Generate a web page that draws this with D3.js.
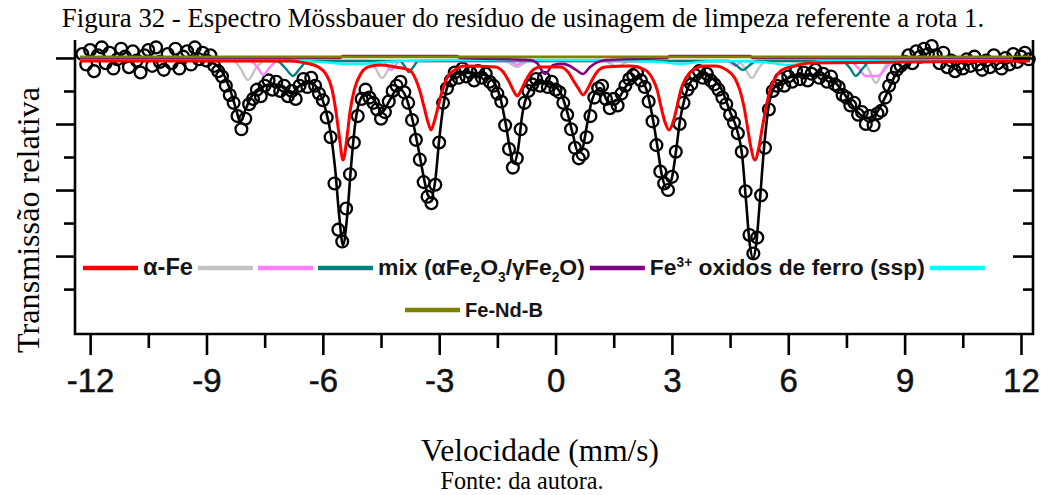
<!DOCTYPE html>
<html>
<head>
<meta charset="utf-8">
<script src="https://cdn.jsdelivr.net/npm/d3@7"></script>
<style>
  html, body { margin: 0; padding: 0; background: #ffffff; }
  svg { display: block; }
</style>
</head>
<body>
<svg id="chart" width="1043" height="495"></svg>
<script>
// ---- Mössbauer spectrum: velocity channels (mm/s) and relative transmission (%) ----
const channelStart = -12.2;
const channelStep = 0.1;
const transmission = [
  100.3, 99.5, 100.6, 99.0, 100.2, 100.8, 99.6, 100.4, 99.2, 99.9, 100.7, 100.1, 99.3, 100.5, 99.8, 98.9,
  100.2, 100.6, 99.4, 100.8, 99.7, 99.1, 100.3, 99.6, 100.7, 99.2, 100.1, 100.5, 99.5, 100.8, 99.9, 100.4, 99.8,
  100.2, 99.4, 99.0, 98.6, 97.9, 97.2, 96.6, 95.6, 94.6, 95.4, 96.5, 96.9, 97.6, 97.1, 97.9, 98.3,
  97.6, 98.2, 97.5, 97.9, 97.1, 97.5, 96.9, 97.9, 98.4, 97.8, 98.5, 97.9, 97.3, 96.8,
  95.5, 94.0, 90.5, 87.0, 86.1, 88.6, 91.2, 93.6, 95.6, 96.9, 97.6,
  97.0, 96.6, 96.1, 95.4, 95.9, 96.7, 97.5, 97.9, 98.2, 97.4,
  96.6, 95.3, 93.8, 92.3, 90.6, 89.5, 89.0, 90.4, 93.6, 96.6, 97.7,
  98.3, 98.9, 98.5, 99.2, 98.6, 98.9, 98.3, 99.0, 98.5, 98.8, 98.2, 97.9,
  97.3, 96.7, 94.9, 93.1, 91.7, 92.4, 94.6, 96.6, 97.5, 98.0,
  98.4, 97.9, 98.5, 97.8, 98.2, 97.6, 97.4, 96.6,
  95.7, 94.6, 93.2, 92.4, 92.7, 94.0, 95.6, 97.0,
  97.7, 97.9, 96.9, 96.2, 96.9, 96.4, 97.3, 97.9, 98.4, 98.7, 98.9, 98.3, 97.8,
  96.7, 95.2, 93.4, 91.4, 90.5, 90.0, 91.0, 92.9, 95.0, 96.6, 97.6,
  98.0, 98.7, 99.0, 98.5, 98.8, 98.3, 98.0, 97.6, 97.0, 96.5, 95.7, 95.1,
  94.3, 92.9, 89.9, 86.6, 85.2, 86.4, 89.6, 93.2, 96.1, 97.5,
  97.9, 98.4, 97.9, 98.6, 98.2, 99.0, 98.4, 98.9, 98.3, 98.8, 99.1, 98.5, 98.8, 98.2, 98.6, 98.0,
  97.8, 97.2, 97.0, 96.4, 96.6, 95.7, 95.9, 95.0, 95.6, 94.9, 95.8, 96.0, 97.0, 97.9, 98.5, 99.1, 99.4,
  99.7, 100.2, 99.6, 100.5, 100.1, 100.7, 100.3, 100.9, 100.2, 99.6, 100.4, 99.3, 99.8, 99.0, 99.5, 99.2,
  99.9, 99.4, 100.1, 99.5, 99.1, 99.8, 99.3, 100.2, 99.6, 99.2, 100.0, 99.5, 100.3, 99.7, 100.1, 100.4, 99.9
];

// Total fitted envelope [velocity, transmission]
const fitTotal = [
  [-12.26, 99.85], [-9.16, 99.85], [-8.83, 99.62], [-8.59, 98.94], [-8.39, 97.58], [-8.23, 96.06], [-8.13, 95.15],
  [-8.00, 96.06], [-7.82, 97.20], [-7.56, 97.80], [-7.31, 98.03], [-7.05, 97.80], [-6.82, 97.35], [-6.58, 97.95],
  [-6.33, 98.18], [-6.12, 97.58], [-5.94, 96.21], [-5.79, 94.17], [-5.68, 91.52], [-5.58, 88.11], [-5.48, 85.83],
  [-5.37, 88.11], [-5.27, 91.89], [-5.17, 94.92], [-5.04, 96.82], [-4.88, 97.35], [-4.68, 96.82], [-4.47, 95.91],
  [-4.27, 96.82], [-4.06, 97.73], [-3.88, 97.20], [-3.70, 95.45], [-3.54, 93.18], [-3.41, 91.14], [-3.29, 89.62],
  [-3.21, 89.39], [-3.10, 90.76], [-3.00, 93.79], [-2.89, 96.44], [-2.74, 98.18], [-2.46, 98.86], [-2.02, 98.86],
  [-1.69, 98.48], [-1.43, 97.05], [-1.28, 94.92], [-1.17, 93.03], [-1.07, 92.05], [-0.97, 93.03], [-0.86, 95.68],
  [-0.71, 97.35], [-0.45, 98.18], [-0.14, 98.03], [0.12, 97.42], [0.30, 95.91], [0.45, 94.17], [0.58, 92.88],
  [0.68, 93.03], [0.81, 94.92], [0.94, 96.82], [1.15, 97.73], [1.38, 96.59], [1.59, 96.82], [1.84, 97.95],
  [2.10, 98.56], [2.33, 97.73], [2.49, 95.68], [2.62, 93.41], [2.74, 91.14], [2.87, 90.15], [3.00, 90.91],
  [3.11, 93.03], [3.21, 95.30], [3.34, 97.05], [3.52, 98.33], [3.78, 98.79], [4.03, 98.48], [4.29, 97.58],
  [4.50, 95.91], [4.68, 94.55], [4.81, 92.65], [4.91, 89.24], [5.01, 85.83], [5.09, 84.85], [5.17, 85.83],
  [5.27, 89.24], [5.37, 93.03], [5.48, 96.06], [5.63, 97.73], [5.91, 98.33], [6.30, 98.71], [6.82, 98.71],
  [7.15, 98.33], [7.41, 97.42], [7.64, 96.44], [7.87, 95.68], [8.05, 95.45], [8.23, 95.68], [8.40, 96.44],
  [8.56, 97.42], [8.76, 98.71], [9.02, 99.47], [9.40, 99.85], [12.23, 99.85]
];

// Sub-spectra
const alphaFe = [
  [-12.26, 99.77], [-6.84, 99.77], [-6.46, 99.62], [-6.12, 99.32], [-5.94, 98.86], [-5.76, 97.58], [-5.66, 95.91],
  [-5.58, 94.17], [-5.48, 92.27], [-5.37, 94.17], [-5.30, 95.91], [-5.19, 97.58], [-5.01, 98.86], [-4.83, 99.32],
  [-4.52, 99.47], [-4.14, 99.32], [-3.78, 99.09], [-3.62, 98.48], [-3.49, 97.42], [-3.39, 96.29], [-3.29, 95.15],
  [-3.21, 94.55], [-3.13, 95.15], [-3.03, 96.29], [-2.93, 97.42], [-2.80, 98.48], [-2.60, 99.09], [-2.34, 99.39],
  [-1.56, 99.32], [-1.35, 98.94], [-1.22, 98.33], [-1.12, 97.73], [-0.99, 97.12], [-0.86, 97.73], [-0.76, 98.33],
  [-0.63, 98.94], [-0.40, 99.32], [0.12, 99.32], [0.32, 98.94], [0.45, 98.33], [0.58, 97.73], [0.71, 97.20],
  [0.84, 97.73], [0.94, 98.33], [1.07, 98.94], [1.28, 99.32], [1.92, 99.39], [2.31, 99.09], [2.49, 98.48],
  [2.62, 97.58], [2.72, 96.29], [2.82, 95.15], [2.93, 94.55], [3.03, 95.15], [3.13, 96.29], [3.23, 97.58],
  [3.36, 98.48], [3.54, 99.09], [3.85, 99.39], [4.11, 99.39], [4.41, 99.09], [4.62, 98.48], [4.75, 97.58],
  [4.86, 96.29], [4.96, 94.55], [5.04, 93.18], [5.14, 92.27], [5.24, 93.18], [5.32, 94.55], [5.43, 96.29],
  [5.53, 97.58], [5.66, 98.48], [5.84, 99.09], [6.17, 99.39], [6.56, 99.62], [12.23, 99.77]
];
const grayComponent = [
  [-12.26, 99.85], [-8.34, 99.85], [-8.13, 99.24], [-7.93, 98.33], [-7.72, 99.24], [-7.51, 99.77],
  [-4.83, 99.77], [-4.65, 99.24], [-4.47, 98.48], [-4.29, 99.24], [-4.11, 99.77],
  [-1.30, 99.77], [-1.15, 99.55], [-0.99, 99.32], [-0.84, 99.55], [-0.68, 99.77],
  [1.28, 99.77], [1.43, 99.55], [1.59, 99.32], [1.74, 99.55], [1.89, 99.77],
  [4.70, 99.77], [4.88, 99.24], [5.06, 98.48], [5.24, 99.24], [5.43, 99.77],
  [7.90, 99.77], [8.08, 99.09], [8.26, 98.11], [8.44, 99.09], [8.62, 99.77], [12.23, 99.85]
];
const pinkComponent = [
  [-12.26, 99.85], [-7.87, 99.77], [-7.69, 99.32], [-7.54, 98.71], [-7.36, 99.32], [-7.18, 99.77],
  [-4.45, 99.77], [-4.34, 99.39], [-4.24, 99.09], [-4.14, 99.39], [-4.03, 99.77],
  [-1.17, 99.77], [-0.99, 99.47], [-0.81, 99.77],
  [4.45, 99.77], [4.63, 99.39], [4.81, 99.77],
  [7.59, 99.77], [7.80, 99.24], [8.00, 98.64], [8.31, 98.64], [8.52, 99.24], [8.70, 99.77], [12.23, 99.85]
];
const mixOxides = [
  [-12.26, 99.85], [-7.18, 99.77], [-6.97, 99.24], [-6.77, 98.64], [-6.58, 99.24], [-6.40, 99.77],
  [-4.01, 99.77], [-3.88, 99.32], [-3.78, 98.94], [-3.67, 99.32], [-3.54, 99.77],
  [4.45, 99.77], [4.65, 99.47], [4.83, 99.09], [5.01, 99.47], [5.19, 99.77],
  [7.38, 99.77], [7.59, 99.24], [7.74, 98.64], [7.93, 99.24], [8.11, 99.77], [12.23, 99.85]
];
const fe3Oxides = [
  [-12.26, 100.00], [-5.55, 100.00], [-5.48, 100.15], [-2.54, 100.15], [-2.46, 100.00],
  [-0.66, 99.85], [-0.48, 99.62], [-0.27, 98.79], [-0.06, 99.47], [0.19, 99.55], [0.37, 99.39],
  [0.53, 99.09], [0.71, 98.79], [0.89, 99.32], [1.10, 99.70], [1.30, 99.85],
  [2.87, 100.00], [2.95, 100.15], [5.01, 100.15], [5.09, 100.00], [12.23, 100.00]
];
const cyanComponent = [
  [-12.26, 99.92], [-6.84, 99.85], [-6.07, 99.70], [-5.30, 99.55], [-4.65, 99.62], [-4.01, 99.77],
  [-2.46, 99.85], [1.15, 99.85], [1.92, 99.77], [2.69, 99.70], [3.21, 99.55], [3.72, 99.70],
  [4.24, 99.77], [5.27, 99.70], [6.04, 99.47], [6.69, 99.70], [7.33, 99.85], [12.23, 99.92]
];
const feNdB = [[-12.26, 100.08], [12.23, 100.08]];

// Axis ticks
const xTicks = [-12, -9, -6, -3, 0, 3, 6, 9, 12];
const xTickLabels = ["-12", "-9", "-6", "-3", "0", "3", "6", "9", "12"];
const xMinorTicks = [-10.5, -7.5, -4.5, -1.5, 1.5, 4.5, 7.5, 10.5];
const yTicks = [100, 95, 90, 85];
const yMinorTicks = [97.5, 92.5, 87.5, 82.5];

// Series in drawing order (back to front)
const seriesList = [
  { data: grayComponent, color: "#c3c3c3", width: 2.4 },
  { data: pinkComponent, color: "#ff80ff", width: 2.4 },
  { data: mixOxides, color: "#008080", width: 2.4 },
  { data: cyanComponent, color: "#00ffff", width: 2.4 },
  { data: fe3Oxides, color: "#800080", width: 2.6 },
  { data: alphaFe, color: "#ff0000", width: 3 },
  { data: feNdB, color: "#808000", width: 2.8 }
];

// Legend entries: swatch colour followed by its label segments
const legendRow1 = [
  { color: "#ff0000", label: [{ t: "α-Fe" }] },
  { color: "#c3c3c3", label: [] },
  { color: "#ff80ff", label: [] },
  { color: "#008080", label: [{ t: "mix (αFe" }, { t: "2", sub: true }, { t: "O" }, { t: "3", sub: true },
                               { t: "/γFe" }, { t: "2", sub: true }, { t: "O)" }] },
  { color: "#800080", label: [{ t: "Fe" }, { t: "3+", sup: true }, { t: " oxidos de ferro (ssp)" }] },
  { color: "#00ffff", label: [] }
];
const legendRow2 = [
  { color: "#808000", label: [{ t: "Fe-Nd-B" }] }
];
const legendWidths = { "α-Fe": 50, "mix": 207, "Fe": 275, "Fe-Nd-B": 78 };

// ---- Layout ----
const svg = d3.select("#chart");
const plot = { left: 75, right: 1033, top: 40, bottom: 334 };

const x = d3.scaleLinear().domain([-12.39, 12.31]).range([plot.left, plot.right]);
const y = d3.scaleLinear().domain([79.1, 101.36]).range([plot.bottom, plot.top]);

const serif = "'Liberation Serif', 'Times New Roman', Times, serif";
const sans = "'Liberation Sans', Arial, Helvetica, sans-serif";

function fitWidth(sel, target) {
  const w = sel.node().getComputedTextLength();
  const fs = parseFloat(sel.attr("font-size"));
  sel.attr("font-size", (fs * target / w).toFixed(2));
}

// Title
const title = svg.append("text")
  .attr("x", 523).attr("y", 27)
  .attr("text-anchor", "middle")
  .attr("font-family", serif).attr("font-size", 22).attr("fill", "#000")
  .text("Figura 32 - Espectro Mössbauer do resíduo de usinagem de limpeza referente a rota 1.");
fitWidth(title, 923);

// Data points (open circles)
const points = transmission.map((t, i) => [channelStart + i * channelStep, t]);
svg.append("g")
  .selectAll("circle")
  .data(points)
  .join("circle")
  .attr("cx", d => x(d[0]))
  .attr("cy", d => y(d[1]))
  .attr("r", 5.9)
  .attr("fill", "none")
  .attr("stroke", "#000")
  .attr("stroke-width", 2.3);

// Fitted envelope
const lineGen = d3.line().x(d => x(d[0])).y(d => y(d[1])).curve(d3.curveMonotoneX);
svg.append("path")
  .datum(fitTotal)
  .attr("d", lineGen)
  .attr("fill", "none")
  .attr("stroke", "#000")
  .attr("stroke-width", 2.6);

// Sub-spectra
svg.append("g")
  .selectAll("path")
  .data(seriesList)
  .join("path")
  .attr("d", d => lineGen(d.data))
  .attr("fill", "none")
  .attr("stroke", d => d.color)
  .attr("stroke-width", d => d.width)
  .attr("stroke-linejoin", "round");

// Frame (left, bottom, right)
svg.append("path")
  .attr("d", `M${plot.left},${plot.top}V${plot.bottom}H${plot.right}V${plot.top}`)
  .attr("fill", "none")
  .attr("stroke", "#000")
  .attr("stroke-width", 2.6)
  .attr("stroke-linejoin", "miter");

function styleAxis(g) {
  g.select(".domain").remove();
  g.selectAll(".tick line").attr("stroke", "#000").attr("stroke-width", 2.6);
}

// X axis
svg.append("g")
  .attr("transform", `translate(0,${plot.bottom})`)
  .call(d3.axisBottom(x).tickValues(xTicks).tickSize(21).tickPadding(14)
    .tickFormat((d, i) => xTickLabels[i]))
  .call(styleAxis)
  .call(g => g.selectAll(".tick text")
    .attr("font-family", sans).attr("font-size", 33).attr("fill", "#111")
    .attr("stroke", "#111").attr("stroke-width", 0.5)
    .attr("dy", "0.71em"));
svg.append("g")
  .attr("transform", `translate(0,${plot.bottom})`)
  .call(d3.axisBottom(x).tickValues(xMinorTicks).tickSize(14).tickFormat(""))
  .call(styleAxis);

// Y axes (no labels): outward on the left, inward on the right
svg.append("g")
  .attr("transform", `translate(${plot.left},0)`)
  .call(d3.axisLeft(y).tickValues(yTicks).tickSize(19).tickFormat(""))
  .call(styleAxis);
svg.append("g")
  .attr("transform", `translate(${plot.left},0)`)
  .call(d3.axisLeft(y).tickValues(yMinorTicks).tickSize(11).tickFormat(""))
  .call(styleAxis);
svg.append("g")
  .attr("transform", `translate(${plot.right},0)`)
  .call(d3.axisRight(y).tickValues(yTicks).tickSize(-20).tickFormat(""))
  .call(styleAxis);
svg.append("g")
  .attr("transform", `translate(${plot.right},0)`)
  .call(d3.axisRight(y).tickValues(yMinorTicks).tickSize(-10).tickFormat(""))
  .call(styleAxis);

// Legend
function drawLegendRow(entries, startX, rowY) {
  let cx = startX;
  const swatch = 55, gap = 5;
  entries.forEach(e => {
    svg.append("line")
      .attr("x1", cx).attr("x2", cx + swatch)
      .attr("y1", rowY).attr("y2", rowY)
      .attr("stroke", e.color).attr("stroke-width", 4.5);
    cx += swatch + gap;
    if (e.label.length) {
      const txt = svg.append("text")
        .attr("x", cx).attr("y", rowY + 7)
        .attr("font-family", sans).attr("font-weight", "bold")
        .attr("font-size", 20).attr("fill", "#151515");
      let shift = 0;
      e.label.forEach(s => {
        const target = s.sub ? 7 : s.sup ? -8 : 0;
        const ts = txt.append("tspan").text(s.t);
        if (target - shift !== 0) ts.attr("dy", target - shift);
        if (s.sub || s.sup) ts.attr("font-size", "0.6em");
        shift = target;
      });
      const key = e.label[0].t.startsWith("mix") ? "mix" : e.label[0].t;
      fitWidth(txt, legendWidths[key]);
      cx += txt.node().getComputedTextLength() + gap;
    }
  });
}
drawLegendRow(legendRow1, 83, 268);
drawLegendRow(legendRow2, 405, 310);

// Axis titles and source line
const yTitle = svg.append("text")
  .attr("transform", "translate(39,220) rotate(-90)")
  .attr("text-anchor", "middle")
  .attr("font-family", serif).attr("font-size", 27).attr("fill", "#000")
  .text("Transmissão relativa");
fitWidth(yTitle, 266);

const xTitle = svg.append("text")
  .attr("x", 540).attr("y", 461)
  .attr("text-anchor", "middle")
  .attr("font-family", serif).attr("font-size", 27).attr("fill", "#000")
  .text("Velocidade (mm/s)");
fitWidth(xTitle, 238);

const source = svg.append("text")
  .attr("x", 522).attr("y", 489)
  .attr("text-anchor", "middle")
  .attr("font-family", serif).attr("font-size", 20).attr("fill", "#000")
  .text("Fonte: da autora.");
fitWidth(source, 163);
</script>
</body>
</html>
